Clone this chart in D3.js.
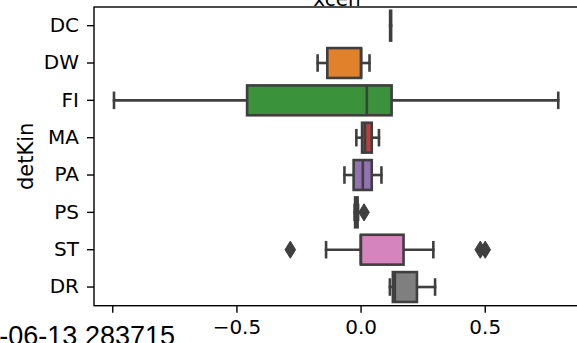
<!DOCTYPE html>
<html>
<head>
<meta charset="utf-8">
<script src="https://cdn.jsdelivr.net/npm/d3@7"></script>
<style>
  html, body { margin: 0; padding: 0; background: #fff; overflow: hidden; }
  svg { display: block; }
</style>
</head>
<body>
<svg id="chart" width="577" height="343"></svg>
<script>
// ---- data ----
const categories = ["DC", "DW", "FI", "MA", "PA", "PS", "ST", "DR"];
const whiskerLow  = [0.121, -0.173, -0.993, -0.017, -0.065, -0.024, -0.139, 0.118];
const q1          = [0.119, -0.134, -0.457,  0.006, -0.028, -0.022,  0.001, 0.130];
const median      = [0.121,  0.002,  0.025,  0.018,  0.009, -0.017,  0.001, 0.138];
const q3          = [0.123,  0.002,  0.125,  0.045,  0.045, -0.012,  0.173, 0.227];
const whiskerHigh = [0.121,  0.036,  0.796,  0.074,  0.084, -0.010,  0.293, 0.300];
const outlierCats = ["PS", "ST", "ST", "ST"];
const outlierVals = [0.014, -0.283, 0.482, 0.502];
const colors = ["#3274a1", "#e1812c", "#3a923a", "#c03d3e", "#9372b2", "#845b53", "#d684bd", "#7f7f7f"];
const xTicks = [-1.0, -0.5, 0.0, 0.5];
const xLimits = [-1.0735, 0.8836];
const titleText = "xcen";
const yLabelText = "detKin";
const footText = "-06-13 283715";

// ---- layout ----
const mLeft = 94, mRight = 580, mTop = 7, mBottom = 305.7;
const edge = "#3f3f3f";
const svg = d3.select("#chart");

const x = d3.scaleLinear().domain(xLimits).range([mLeft, mRight]);
const y = d3.scaleBand().domain(categories).range([mTop, mBottom]).padding(0);
const bh = y.bandwidth() * 0.8;
const lw = 2.6;

const rows = categories.map((c, i) => ({
  c, lo: whiskerLow[i], q1: q1[i], med: median[i], q3: q3[i], hi: whiskerHigh[i], color: colors[i]
}));

const g = svg.append("g");
rows.forEach(r => {
  const cy = y(r.c) + y.bandwidth() / 2;
  g.append("line").attr("x1", x(r.lo)).attr("x2", x(r.q1)).attr("y1", cy).attr("y2", cy)
    .attr("stroke", edge).attr("stroke-width", lw).attr("stroke-linecap", "square");
  g.append("line").attr("x1", x(r.q3)).attr("x2", x(r.hi)).attr("y1", cy).attr("y2", cy)
    .attr("stroke", edge).attr("stroke-width", lw).attr("stroke-linecap", "square");
  [r.lo, r.hi].forEach(v => {
    g.append("line").attr("x1", x(v)).attr("x2", x(v)).attr("y1", cy - bh / 4).attr("y2", cy + bh / 4)
      .attr("stroke", edge).attr("stroke-width", lw).attr("stroke-linecap", "square");
  });
  g.append("rect").attr("x", x(r.q1)).attr("width", Math.max(0, x(r.q3) - x(r.q1)))
    .attr("y", cy - bh / 2).attr("height", bh)
    .attr("fill", r.color).attr("stroke", edge).attr("stroke-width", lw);
  g.append("line").attr("x1", x(r.med)).attr("x2", x(r.med)).attr("y1", cy - bh / 2).attr("y2", cy + bh / 2)
    .attr("stroke", edge).attr("stroke-width", lw);
});

const hh = 8.6, hw = 5.3;
outlierVals.forEach((v, i) => {
  const cx = x(v), cy = y(outlierCats[i]) + y.bandwidth() / 2;
  g.append("path")
    .attr("d", `M${cx},${cy - hh}L${cx + hw},${cy}L${cx},${cy + hh}L${cx - hw},${cy}Z`)
    .attr("fill", edge).attr("stroke", edge).attr("stroke-width", 1);
});

const fmt = d3.format(".1f");
const xAxis = svg.append("g").attr("transform", `translate(0,${mBottom})`)
  .call(d3.axisBottom(x).tickValues(xTicks).tickSize(7).tickSizeOuter(0).tickPadding(7)
    .tickFormat(d => d === -1 ? "" : fmt(d)));
const yAxis = svg.append("g").attr("transform", `translate(${mLeft},0)`)
  .call(d3.axisLeft(y).tickSize(7).tickSizeOuter(0).tickPadding(8));
[xAxis, yAxis].forEach(a => {
  a.select(".domain").remove();
  a.selectAll(".tick line").attr("stroke", "#000").attr("stroke-width", 1.4);
  a.selectAll(".tick text").attr("fill", "#000")
    .style("font-family", "'DejaVu Sans', sans-serif").style("font-size", "20px");
});

svg.append("rect").attr("x", mLeft).attr("y", mTop).attr("width", mRight - mLeft).attr("height", mBottom - mTop)
  .attr("fill", "none").attr("stroke", "#000").attr("stroke-width", 1.4);

svg.append("text").attr("x", (mLeft + mRight) / 2).attr("y", 6).attr("text-anchor", "middle")
  .style("font-family", "'DejaVu Sans', sans-serif").style("font-size", "20px").text(titleText);

svg.append("text").attr("transform", `translate(33,${(mTop + mBottom) / 2}) rotate(-90)`)
  .attr("text-anchor", "middle")
  .style("font-family", "'DejaVu Sans', sans-serif").style("font-size", "21px").text(yLabelText);

svg.append("text").attr("x", 175).attr("y", 345).attr("text-anchor", "end")
  .style("font-family", "'Liberation Sans', Arial, sans-serif").style("font-size", "27px").text(footText);
</script>
</body>
</html>
